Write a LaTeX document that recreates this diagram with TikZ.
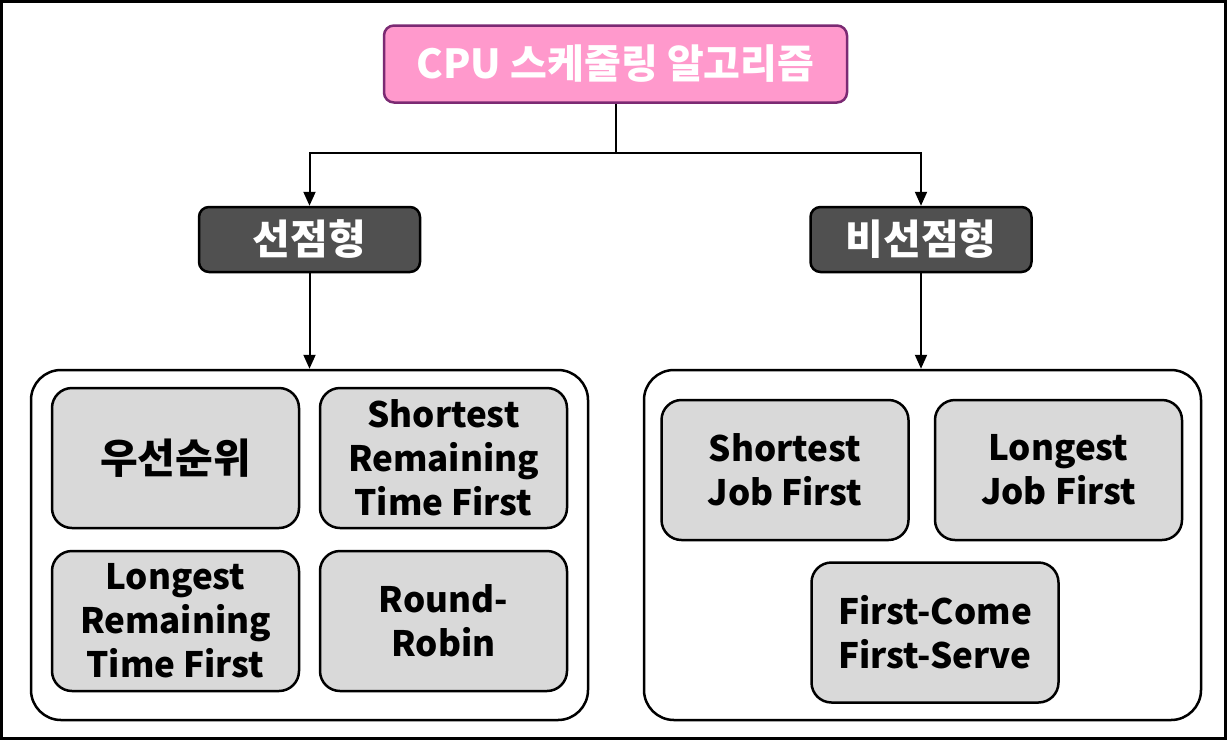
\documentclass[tikz,border=0pt]{standalone}
\usepackage{fontspec}
\setmainfont{Noto Sans CJK KR}
\usetikzlibrary{arrows.meta}
\definecolor{pinkfill}{HTML}{FF99CC}
\definecolor{pinkline}{HTML}{7B2A73}
\definecolor{darkfill}{HTML}{505050}
\definecolor{grayfill}{HTML}{D9D9D9}
\begin{document}
\begin{tikzpicture}[x=1pt,y=-1pt,
  box/.style={rounded corners=10pt, line width=2.5pt, inner sep=0pt, align=center, font=\fontsize{35}{44}\selectfont\bfseries},
  kr/.style={font=\fontsize{41}{48}\selectfont\bfseries},
  topbox/.style={box, kr, font=\fontsize{40}{48}\selectfont\bfseries, draw=pinkline, fill=pinkfill, text=white, minimum width=463pt, minimum height=77pt},
  catbox/.style={box, kr, draw=black, fill=darkfill, text=white, minimum width=221pt, minimum height=65pt},
  algbox/.style={box, rounded corners=20pt, draw=black, fill=grayfill, text=black, minimum width=247pt, minimum height=140pt},
  groupbox/.style={rounded corners=30pt, line width=2.5pt, draw=black, fill=white, minimum width=557pt, minimum height=350pt, inner sep=0pt},
  conn/.style={line width=2pt, draw=black},
  arr/.style={conn, -{Triangle[width=12pt,length=14pt]}}
]
\useasboundingbox (0,0) rectangle (1227,740);
\draw[line width=3pt] (1.5,1.5) rectangle (1225.5,738.5);

\node[topbox] (root) at (615.5,64) {CPU 스케줄링 알고리즘};
\node[catbox] (pre) at (309.5,239.5) {선점형};
\node[catbox] (nonpre) at (921,239.5) {비선점형};

\node[groupbox] (gl) at (309.5,545) {};
\node[groupbox] (gr) at (922.5,545) {};

\node[algbox, kr] (a1) at (175.5,458) {우선순위};
\node[algbox] (a2) at (443.5,458) {Shortest\\Remaining\\Time First};
\node[algbox] (a3) at (175.5,621) {Longest\\Remaining\\Time First};
\node[algbox] (a4) at (443.5,621) {Round-\\Robin};

\node[algbox] (b1) at (785,470) {Shortest\\Job First};
\node[algbox] (b2) at (1058.5,470) {Longest\\Job First};
\node[algbox] (b3) at (935,632.5) {First-Come\\First-Serve};

\coordinate (split) at (root.south |- 0,153);
\draw[conn] (root.south) -- (split);
\draw[arr] (split) -| (pre.north);
\draw[arr] (split) -| (nonpre.north);
\draw[arr] (pre.south) -- (pre.south |- gl.north);
\draw[arr] (nonpre.south) -- (nonpre.south |- gr.north);
\end{tikzpicture}
\end{document}
